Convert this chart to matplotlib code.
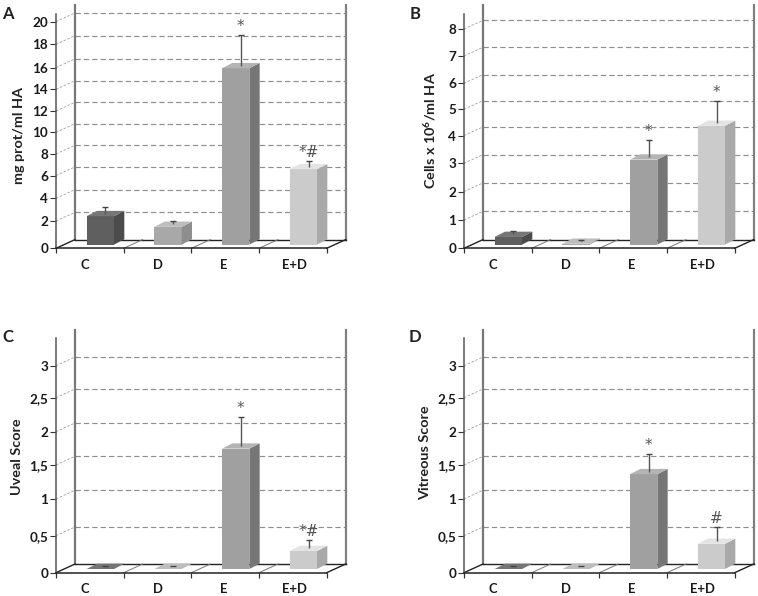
import numpy as np
import matplotlib
matplotlib.use("Agg")
import matplotlib.pyplot as plt
from matplotlib.transforms import Affine2D, IdentityTransform

W = 758
H = 596

plt.rcParams['font.family'] = ['Lato', 'DejaVu Sans']
plt.rcParams['mathtext.fontset'] = 'custom'
plt.rcParams['mathtext.rm'] = 'Lato:bold'
plt.rcParams['mathtext.default'] = 'rm'

categories = ['C', 'D', 'E', 'E+D']

# bar heights and tips of the error bars
values_a = [2.1, 1.3, 15.6, 6.25]
tips_a = [2.7, 1.56, 18.26, 6.8]
values_b = [0.27, 0.03, 3.0, 4.23]
tips_b = [0.38, 0.08, 3.62, 5.06]
values_c = [0.0, 0.0, 1.69, 0.243]
tips_c = [0.0, 0.0, 2.12, 0.35]
values_d = [0.0, 0.0, 1.31, 0.34]
tips_d = [0.0, 0.0, 1.57, 0.53]

marks_a = ['', '', '*', '*#']
marks_b = ['', '', '*', '*']
marks_c = ['', '', '*', '*#']
marks_d = ['', '', '*', '#']

ticks_a = [0, 2, 4, 6, 8, 10, 12, 14, 16, 18, 20]
labels_a = [str(t) for t in ticks_a]
ticks_b = [0, 1, 2, 3, 4, 5, 6, 7, 8]
labels_b = [str(t) for t in ticks_b]
ticks_score = [0, 0.5, 1, 1.5, 2, 2.5, 3]
labels_score = ['0', '0,5', '1', '1,5', '2', '2,5', '3']

# the printed axes are not quite even, so tick rows come from the picture (px from the floor)
rows_a = [0, 27.3, 50, 72.7, 94.3, 116, 137.3, 159, 180.7, 204, 226.7]
rows_b = [0, 28.3, 56.7, 85, 112.7, 139, 165, 192.3, 219.3]
rows_score = [0, 37, 73.7, 107.7, 141, 175, 207]

# colours per bar: front, side, top
front = ['#5f5f5f', '#a8a8a8', '#a0a0a0', '#cbcbcb']
side = ['#4b4b4b', '#8e8e8e', '#767676', '#a9a9a9']
top = ['#767676', '#bdbdbd', '#b4b4b4', '#e4e4e4']

WALL = (19, 8.7)      # px from the front plane to the back wall
BAR_SHIFT = (10.5, 3.7)  # px from the front plane to the bar front
BAR_DEPTH = (10.3, 5.3)
AXIS_H = 234.3
LABEL_X = [-0.08, 0, 1.98, 3.03]  # category labels sit a bit off centre


def shifted(ax, dx, dy):
    return ax.transData + Affine2D().translate(dx, dy)


def panel(x0, floor_y, letter, letter_xy, ylabel, ylabel_xy, ticks, labels, rows, values, tips, marks):
    ax = plt.gcf().add_axes([x0 / W, (H - floor_y) / H, 270.7 / W, AXIS_H / H])
    ax.set_facecolor('none')

    # extend the scale above the last tick up to the end of the axis
    step = (rows[-1] - rows[-2]) / (ticks[-1] - ticks[-2])
    tv = np.array(list(ticks) + [ticks[-1] + (AXIS_H - rows[-1]) / step])
    tp = np.array(list(rows) + [AXIS_H])
    ax.set_yscale('function', functions=(lambda v: np.interp(v, tv, tp), lambda p: np.interp(p, tp, tv)))
    ax.set_xlim(-0.5, 3.5)
    ax.set_ylim(0, tv[-1])
    ax.set_autoscale_on(False)

    for s in ['top', 'right']:
        ax.spines[s].set_visible(False)
    ax.spines['left'].set_color('#555555')
    ax.spines['left'].set_linewidth(1.1)
    ax.spines['bottom'].set_color('#222222')
    ax.spines['bottom'].set_linewidth(1.1)

    ax.set_yticks(ticks)
    ax.set_yticklabels(labels)
    ax.yaxis.set_minor_locator(plt.NullLocator())
    ax.tick_params(axis='y', length=4.2, width=0.8, color='#333333', pad=1.5, labelsize=9.7, labelcolor='#1a1a1a')
    for t in ax.get_yticklabels():
        t.set_fontweight('bold')

    ax.set_xticks([-0.5, 0.5, 1.5, 2.5, 3.5])
    ax.set_xticklabels([])
    ax.set_xticks([LABEL_X[0], 1, LABEL_X[2], LABEL_X[3]], minor=True)
    ax.set_xticklabels(categories, minor=True, fontweight='bold', fontsize=9.4, color='#1a1a1a')
    ax.tick_params(axis='x', which='major', length=3.6, width=0.9, color='#333333')
    ax.tick_params(axis='x', which='minor', length=0, pad=7.5)

    # back wall, floor and dashed grid, in display px from the front plane
    back = shifted(ax, *WALL)
    to_px = ax.transData.transform
    display = IdentityTransform()
    for t in ticks[1:]:
        ax.plot([-0.5, 3.5], [t, t], transform=back, color='#8f8f8f', lw=0.85, ls=(0, (4.5, 2.6)), clip_on=False, zorder=1)
        p = to_px((-0.5, t))
        ax.plot([p[0], p[0] + WALL[0]], [p[1], p[1] + WALL[1]], transform=display, color='#a0a0a0', lw=0.6,
                ls=(0, (3, 2)), clip_on=False, zorder=1)
    ax.plot([-0.5, -0.5], [0, tv[-1]], transform=back, color='#777777', lw=1.6, clip_on=False, zorder=1.5)
    ax.plot([3.5, 3.5], [0, tv[-1]], transform=back, color='#808080', lw=1.6, clip_on=False, zorder=1.5)
    ax.plot([-0.5, 3.5], [0, 0], transform=back, color='#222222', lw=1.0, clip_on=False, zorder=1.5)
    for i, xb in enumerate([-0.5, 0.5, 1.5, 2.5, 3.5]):
        p = to_px((xb, 0))
        outer = i in (0, 4)
        ax.plot([p[0], p[0] + WALL[0]], [p[1], p[1] + WALL[1]], transform=display,
                color='#222222' if outer else '#777777', lw=1.0 if outer else 0.7, clip_on=False, zorder=1.6)

    # bars: library bar for the front face, side and top faces follow it
    xs = np.arange(len(values))
    width = 0.404
    ax.bar(xs, values, width, color=front, transform=shifted(ax, *BAR_SHIFT), clip_on=False, zorder=3)
    bar_tf = shifted(ax, *BAR_SHIFT)
    dx, dy = BAR_DEPTH
    for i, v in enumerate(values):
        a = bar_tf.transform((xs[i] - width / 2, 0))
        b = bar_tf.transform((xs[i] + width / 2, v))
        ax.fill([b[0], b[0] + dx, b[0] + dx, b[0]], [a[1], a[1] + dy, b[1] + dy, b[1]], transform=display,
                color=side[i], lw=0, clip_on=False, zorder=3)
        ax.fill([a[0], a[0] + dx, b[0] + dx, b[0]], [b[1], b[1] + dy, b[1] + dy, b[1]], transform=display,
                color=top[i], lw=0, clip_on=False, zorder=3)

    # error bars rise from the middle of the top face
    err_tf = shifted(ax, BAR_SHIFT[0] + dx / 2, BAR_SHIFT[1] + dy / 2)
    ax.vlines(xs, values, tips, transform=err_tf, color='#555555', lw=1.0, clip_on=False, zorder=4)
    ax.plot(xs, tips, ls='none', marker='_', ms=5, mew=1.0, color='#444444', transform=err_tf, clip_on=False, zorder=4)
    for i, m in enumerate(marks):
        if m:
            ax.annotate(m, (xs[i], tips[i]), xycoords=err_tf, xytext=(0, 1), textcoords='offset pixels',
                        ha='center', va='bottom', fontsize=11, family='DejaVu Sans', color='#555555', zorder=5)

    plt.gcf().text(letter_xy[0] / W, 1 - letter_xy[1] / H, letter, ha='center', va='center',
                   fontsize=12, fontweight='bold', color='#222222')
    plt.gcf().text(ylabel_xy[0] / W, 1 - ylabel_xy[1] / H, ylabel, ha='center', va='center', rotation=90,
                   fontsize=10.4, fontweight='bold', color='#222222')
    return ax


fig = plt.figure(figsize=(W / 100, H / 100), dpi=100)

panel(56, 248.3, 'A', (7.5, 14), 'mg prot/ml HA', (19, 135), ticks_a, labels_a, rows_a, values_a, tips_a, marks_a)
panel(464, 248.3, 'B', (415, 14), 'Cells x 10$^{6}$/ml HA', (430, 130), ticks_b, labels_b, rows_b, values_b, tips_b, marks_b)
panel(56, 572.7, 'C', (7.5, 337), 'Uveal Score', (17, 457), ticks_score, labels_score, rows_score, values_c, tips_c, marks_c)
panel(464, 572.7, 'D', (415, 337), 'Vitreous Score', (425, 453), ticks_score, labels_score, rows_score, values_d, tips_d, marks_d)

plt.savefig('out.png', dpi=100)
plt.close()
